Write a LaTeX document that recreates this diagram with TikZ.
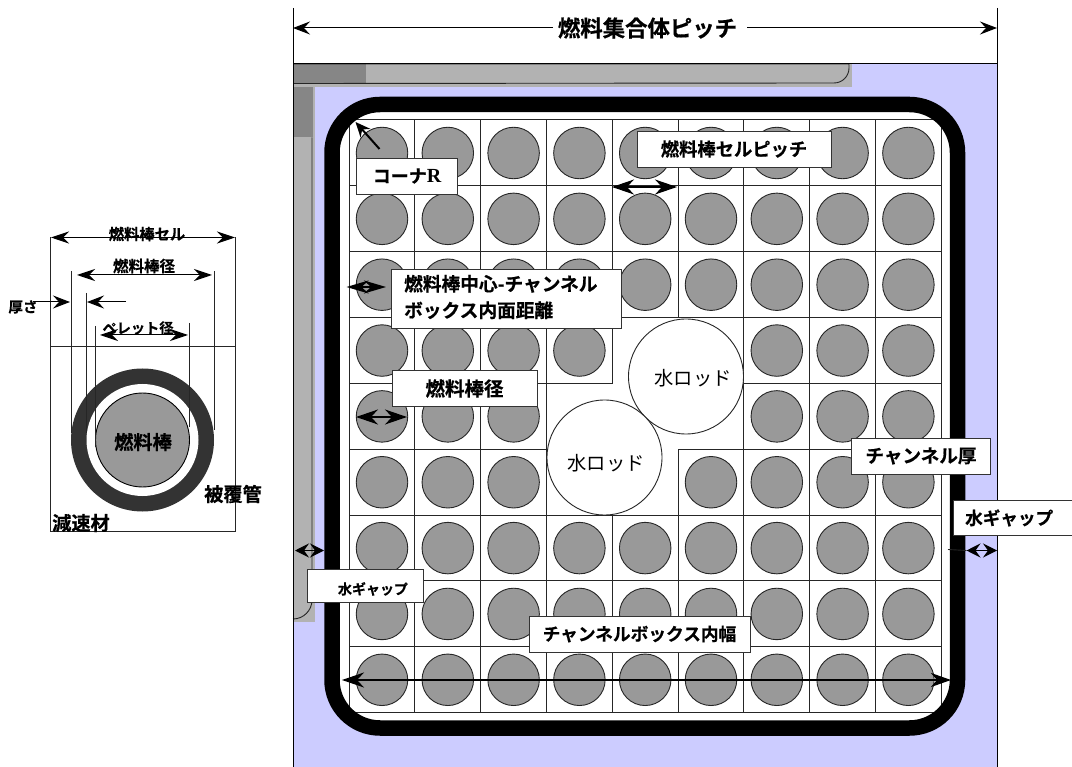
\documentclass[tikz,border=0pt]{standalone}
\usepackage{fontspec}
\setmainfont{Noto Sans CJK JP}[BoldFont={Noto Sans CJK JP Bold},BoldFeatures={FakeBold=0.5}]
\newfontfamily\latinserif{Liberation Serif}[BoldFont={Liberation Serif Bold}]
\usetikzlibrary{arrows.meta,calc}
\definecolor{gapblue}{HTML}{CCCCFF}
\definecolor{rodgray}{HTML}{999999}
\definecolor{barlight}{HTML}{B2B2B2}
\definecolor{bardark}{HTML}{868686}
\definecolor{cladding}{HTML}{333333}
\newcommand{\fs}[1]{\fontsize{#1}{#1}\selectfont}
\tikzset{
  dimline/.style={draw=black,line width=1pt,{Stealth[length=18pt,width=12pt,inset=6pt]}-{Stealth[length=18pt,width=12pt,inset=6pt]}},
  dimright/.style={draw=black,line width=1pt,-{Stealth[length=17pt,width=13pt,inset=6pt]}},
  smalldim/.style={draw=black,line width=1.2pt,{Stealth[length=14pt,width=14pt,inset=5pt]}-{Stealth[length=14pt,width=14pt,inset=5pt]}},
  bigdim/.style={draw=black,line width=1.4pt,{Stealth[length=22pt,width=15pt,inset=7pt]}-{Stealth[length=22pt,width=15pt,inset=7pt]}},
  labelbox/.style={draw=black!80,line width=0.9pt,fill=white,inner sep=0pt,align=center,font=\bfseries},
  tag/.style={inner sep=0pt,font=\bfseries},
  fuelrod/.style={circle,draw=black!85,fill=rodgray,line width=0.9pt,minimum size=51.5pt,inner sep=0pt},
  waterrod/.style={circle,draw=black!85,fill=white,line width=0.9pt,minimum size=115pt,inner sep=0pt},
  cell/.style={draw=black!85,line width=1pt},
  thin dim/.style={draw=black!85,line width=0.9pt}
}
\begin{document}
\begin{tikzpicture}[x=1pt,y=-1pt]
\useasboundingbox (0,0) rectangle (1072,767);
% assembly background
\fill[gapblue] (293,64) rectangle (997,767);
\fill[barlight] (293,64) rectangle (852,87);
\fill[bardark] (293,64) rectangle (366,84);
\fill[barlight] (293,87) rectangle (315,622);
\fill[bardark] (293,87) rectangle (313,137.5);
\draw[thin dim] (293,64) -- (849,64) -- (849,68) arc[start angle=0,end angle=90,radius=15] -- (293,83.5);
\draw[thin dim] (312,137.5) -- (312,600) arc[start angle=0,end angle=90,radius=19] -- (293,619);
\coordinate (pitchL) at (293,28);
\coordinate (pitchR) at (997,28);
\draw[black,line width=1pt] (293,8) -- (293,767) (997,8) -- (997,767) (293,64) -- (997,64);
% channel box interior
\fill[white,rounded corners=48pt] (332,104.5) rectangle (957.5,728);
% fuel cells
\foreach \r/\cols in {0/{0,1,2,3,4,5,6,7,8},1/{0,1,2,3,4,5,6,7,8},2/{0,1,2,3,4,5,6,7,8},3/{0,1,2,3,6,7,8},4/{0,1,2,6,7,8},5/{0,1,2,5,6,7,8},6/{0,1,2,3,4,5,6,7,8},7/{0,1,2,3,4,5,6,7,8},8/{0,1,2,3,4,5,6,7,8}}{
  \foreach \c in \cols {
    \draw[cell] ({349+65.8*\c},{120+65.85*\r}) rectangle ++(65.8,65.85);
    \node[fuelrod] (rod\r\c) at ({382+65.8*\c},{153+65.85*\r}) {};
  }
}
% channel box wall
\draw[black,line width=15.5pt,rounded corners=48pt] (332,104.5) rectangle (957.5,728);
\node[waterrod] (rodA) at (686,376.5) {};
\node[waterrod] (rodB) at (604.5,457.5) {};
\node[inner sep=0pt,font=\fs{19.3}] (rodAt) at (693,378) {水ロッド};
\node[inner sep=0pt,font=\fs{19.3}] (rodBt) at (606,463) {水ロッド};
% pitch dimension
\node[tag,font=\bfseries\fs{22.4}] (pitch) at (647.5,28) {燃料集合体ピッチ};
\coordinate (pitchGL) at (553,28);
\coordinate (pitchGR) at (747,28);
\draw[dimright] (pitchGL) -- (pitchL);
\draw[dimright] (pitchGR) -- (pitchR);
% corner R
\coordinate (cornerA) at (379.5,149);
\coordinate (cornerB) at (355.5,122);
\draw[draw=black,line width=2pt,-{Stealth[length=15pt,width=13pt,inset=5pt]}] (cornerA) -- (cornerB);
\node[labelbox,minimum width=101.5pt,minimum height=36pt] (lcorner) at (407,176) {\raisebox{-3pt}{\fs{18}コーナ{\latinserif\fs{20}R}}};
% cell pitch
\node[labelbox,minimum width=194pt,minimum height=36pt] (lcell) at (734,149) {\raisebox{-3pt}{\fs{18.3}燃料棒セルピッチ}};
\coordinate (cpL) at (612,187);
\coordinate (cpR) at (677,187);
\draw[bigdim] (cpL) -- (cpR);
% rod centre to box
\coordinate (ccL) at (346.5,287);
\coordinate (ccR) at (386,287);
\draw[draw=black,line width=1.5pt,{Stealth[length=22pt,width=13pt,inset=7pt]}-{Stealth[length=22pt,width=13pt,inset=7pt]}] (ccL) -- (ccR);
\node[labelbox,anchor=north west,minimum height=59pt,text width=204pt,inner xsep=13pt,align=left] (lcentre) at (390.7,269) {\raisebox{-4.5pt}{\fs{18.7}\begin{tabular}{@{}l@{}}燃料棒中心-チャンネル\\[5pt]ボックス内面距離\end{tabular}}};
% rod diameter
\node[labelbox,minimum width=145pt,minimum height=35.5pt] (ldia) at (464.5,388.5) {\raisebox{-3pt}{\fs{19.5}燃料棒径}};
\coordinate (rdL) at (356,417);
\coordinate (rdR) at (407,417);
\draw[bigdim] (rdL) -- (rdR);
% channel thickness
\node[labelbox,minimum width=138.5pt,minimum height=36pt] (lthick) at (921,456) {\raisebox{-3pt}{\fs{18.6}チャンネル厚}};
% water gap right
\node[labelbox,anchor=north west,minimum height=35pt,text width=107pt,inner xsep=12pt,align=left] (lgapR) at (952.7,500) {\fs{17.6}水ギャップ};
\coordinate (gapRL) at (966.5,550.5);
\coordinate (gapRR) at (997,550.5);
\coordinate (gapRT) at (948,549.5);
\draw[thin dim] (gapRT) -- (gapRL);
\draw[smalldim] (gapRL) -- (gapRR);
% water gap left
\coordinate (gapLL) at (295,550.5);
\coordinate (gapLR) at (324,550.5);
\draw[smalldim] (gapLL) -- (gapLR);
\node[labelbox,minimum width=116pt,minimum height=33pt,anchor=north west] (lgapL) at (307,569) {};
\node[tag,font=\bfseries\fs{14}] (lgapLt) at (373,589) {水ギャップ};
% channel inner width
\coordinate (widthL) at (342,680);
\coordinate (widthR) at (951,680);
\draw[draw=black,line width=1.8pt,{Stealth[length=22pt,width=15pt,inset=7pt]}-{Stealth[length=20pt,width=14pt,inset=6pt]}] (widthL) -- (widthR);
\node[labelbox,minimum width=221pt,minimum height=36pt] (lwidth) at (639.5,634) {\raisebox{-3pt}{\fs{17.7}チャンネルボックス内幅}};
% single rod detail
\draw[thin dim] (50.7,237) -- (50.7,532) (235,237) -- (235,532) (50.7,346.7) -- (235,346.7) (50.7,531) -- (235,531);
\node[circle,fill=cladding,minimum size=143pt,inner sep=0pt] (clad) at (142.5,440) {};
\node[circle,fill=white,minimum size=112pt,inner sep=0pt] (cgap) at (142.5,440) {};
\node[circle,draw=black,fill=rodgray,line width=0.9pt,minimum size=94pt,inner sep=0pt] (pellet) at (142.5,440) {};
\draw[thin dim] (71,271) -- (71,433) (214,271) -- (214,430) (86,293) -- (86,433) (95,326) -- (95,447) (189.7,323) -- (189.7,427);
\coordinate (cellL) at (51,237.5);
\coordinate (cellR) at (235,237.5);
\draw[dimline] (cellL) -- (cellR);
\coordinate (diaL) at (77,275);
\coordinate (diaR) at (212,275);
\draw[dimline] (diaL) -- (diaR);
\coordinate (pelL) at (100,335);
\coordinate (pelR) at (188,335);
\draw[dimline] (pelL) -- (pelR);
\coordinate (thA) at (33,302);
\coordinate (thB) at (70,302);
\coordinate (thC) at (126,302);
\coordinate (thD) at (87,302);
\draw[dimright] (thA) -- (thB);
\draw[dimright] (thC) -- (thD);
\node[tag,font=\bfseries\fs{15.3}] (tcell) at (147,234) {燃料棒セル};
\node[tag,font=\bfseries\fs{15.5}] (tdia) at (144,266) {燃料棒径};
\node[tag,font=\bfseries\fs{14.2}] (tpel) at (138,328) {ペレット径};
\node[tag,font=\bfseries\fs{14.5}] (tthk) at (23,307) {厚さ};
\node[tag,font=\bfseries\fs{19.2}] (trod) at (143,442) {燃料棒};
\node[tag,font=\bfseries\fs{19.2}] (tclad) at (233,494) {被覆管};
\node[tag,font=\bfseries\fs{19.2}] (tmod) at (81,523) {減速材};
\end{tikzpicture}
\end{document}
